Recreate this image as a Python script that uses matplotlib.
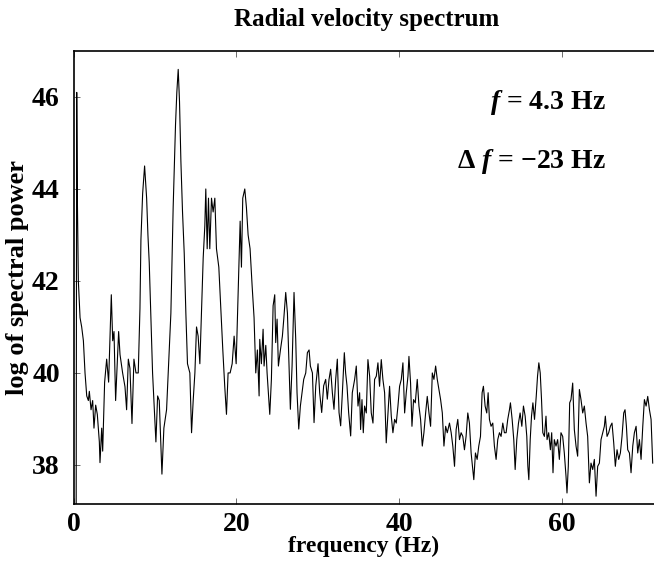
import numpy as np
import matplotlib.pyplot as plt

# values (frequency in Hz, log of spectral power)
freq = [0.0, 0.25, 0.37, 0.45, 0.57, 0.78, 0.98, 1.19, 1.39, 1.60, 1.80, 1.92, 2.13, 2.33,
        2.49, 2.70, 2.90, 3.15, 3.23, 3.44, 3.56, 3.80, 4.05, 4.29, 4.62, 4.79, 4.95,
        5.15, 5.52, 5.69, 6.01, 6.30, 6.50, 6.71, 6.91, 7.16, 7.40, 7.65, 7.93, 8.14,
        8.26, 8.47, 8.71, 8.96, 9.12, 9.28, 9.53, 9.69, 10.10, 10.31, 10.51, 10.84,
        11.08, 11.41,
        11.61, 11.94, 12.22, 12.51, 12.67, 12.84, 13.0, 13.17, 13.37, 13.58, 13.78,
        13.98, 14.27, 14.48, 14.68, 14.89, 15.09, 15.29, 15.50, 15.70, 15.91, 16.11,
        16.23, 16.40, 16.56, 16.72, 16.93, 17.13, 17.34, 17.54, 17.83, 18.07, 18.32,
        18.56, 18.77, 18.97, 19.22, 19.47, 19.71, 19.96, 20.20, 20.45, 20.61, 20.77,
        21.02, 21.22, 21.43, 21.67, 21.92, 22.16, 22.37, 22.57, 22.78,
        22.86, 23.06, 23.27, 23.39, 23.6, 23.76, 23.92, 24.09, 24.29, 24.5, 24.7,
        24.82, 24.99, 25.15, 25.4, 25.64, 25.81, 26.05, 26.26, 26.46, 26.62, 26.83,
        27.07, 27.28, 27.44, 27.65, 27.85, 28.06, 28.26, 28.51, 28.71, 28.92, 29.08,
        29.33, 29.53, 29.74, 30.02, 30.22, 30.47, 30.71, 30.96, 31.16, 31.37, 31.57,
        31.78, 31.98, 32.19, 32.39, 32.6, 32.8, 33.01, 33.25, 33.41, 33.58, 33.78,
        34.03, 34.23,
        34.52, 34.72, 34.93, 35.13, 35.25, 35.42, 35.58, 35.74, 35.95, 36.15, 36.36,
        36.56, 36.77, 36.97, 37.18, 37.38, 37.58, 37.79, 37.99, 38.2, 38.4, 38.61,
        38.81, 39.02, 39.22, 39.43, 39.63, 39.84, 40.04, 40.25, 40.45, 40.66, 40.86,
        41.07, 41.19, 41.39, 41.56, 41.76, 41.97, 42.21, 42.42, 42.62, 42.83, 43.03,
        43.24, 43.44, 43.65, 43.85, 44.06, 44.26, 44.47, 44.67, 44.88, 45.08, 45.29,
        45.49, 45.7, 45.9,
        46.17, 46.38, 46.58, 46.79, 46.99, 47.19, 47.4, 47.6, 47.81, 48.01, 48.21,
        48.42, 48.62, 48.83, 49.03, 49.16, 49.36, 49.57, 49.77, 49.98, 50.18, 50.34,
        50.55, 50.75, 50.92, 51.08, 51.28, 51.49, 51.69, 51.9, 52.1, 52.31, 52.51,
        52.72, 52.92, 53.13, 53.33, 53.54, 53.66, 53.87, 54.07, 54.24, 54.44, 54.65,
        54.85, 55.06, 55.26, 55.47, 55.67, 55.8, 55.92, 56.09, 56.25, 56.42, 56.62,
        56.83, 56.99, 57.15, 57.32, 57.48, 57.64,
        57.83, 58.03, 58.16, 58.36, 58.57, 58.73, 58.89, 59.05, 59.26, 59.46, 59.67,
        59.87, 60.08, 60.28, 60.49, 60.61, 60.77, 60.94, 61.1, 61.31, 61.51, 61.72,
        61.92, 62.13, 62.33, 62.54, 62.74, 62.95, 63.15, 63.36, 63.56, 63.77, 63.97,
        64.18, 64.38, 64.59, 64.79, 65.0, 65.2, 65.32, 65.53, 65.73, 65.94, 66.14,
        66.35, 66.55, 66.76, 66.96, 67.17, 67.37, 67.58, 67.74, 67.91, 68.07, 68.28,
        68.48, 68.69, 68.89, 69.1, 69.3, 69.51, 69.71, 69.92, 70.12, 70.33, 70.53,
        70.74, 70.94, 71.14]

power = [30.0, 30.0, 46.1, 43.8, 42.0, 41.2, 41.0, 40.7, 40.0, 39.5, 39.4, 39.6, 39.2, 39.4,
         38.8, 39.3, 39.1, 38.5, 38.05, 38.8, 38.3, 39.8, 40.3, 39.8, 41.7, 40.7, 40.9,
         39.4, 40.9, 40.4, 40.0, 39.7, 39.2, 40.3, 40.1, 38.9, 40.3, 40.0, 40.0, 41.4,
         42.9, 43.9, 44.5, 43.8, 43.0, 42.4, 40.9, 40.0, 38.5, 39.5, 39.4, 37.8,
         38.8, 39.2,
         40.0, 41.3, 43.6, 45.4, 46.1, 46.6, 45.9, 44.6, 43.5, 42.6, 41.3,
         40.2, 40.0, 38.7, 39.4, 40.0, 41.0, 40.8, 40.2, 41.3, 42.5, 43.2,
         44.0, 42.7, 43.8, 42.7, 43.8, 43.5, 43.8, 42.7, 42.3, 41.4, 40.5,
         39.7, 39.1, 40.0, 40.0, 40.2, 40.8, 40.2, 41.7, 43.3, 42.3, 43.8,
         44.0, 43.6, 43.0, 42.7, 41.9, 41.2, 40.0, 40.5, 39.5,
         40.73, 40.2, 40.95, 40.15, 40.6, 40.0, 39.57, 39.1, 39.86, 41.46, 41.7,
         40.66, 41.17, 40.15, 40.5, 40.8, 41.17, 41.75, 41.3, 40.15, 39.21, 40.15,
         41.75, 40.73, 39.57, 38.78, 39.28, 39.57, 39.86, 40.0, 40.44, 40.5, 40.15,
         40.0, 38.92, 39.72, 40.2, 39.57, 39.14, 39.72, 39.86, 39.43, 39.86, 40.08,
         39.57, 39.21, 39.86, 40.3, 39.14, 38.85, 39.57, 40.44, 40.0, 39.72, 39.14,
         38.63, 39.57,
         39.86, 40.15, 39.28, 39.57, 38.77, 39.42, 38.7, 39.28, 39.13, 40.29, 39.93,
         39.13, 38.91, 39.86, 39.93, 40.22, 39.71, 40.29, 39.86, 39.57, 38.48, 39.13,
         39.71, 39.06, 38.7, 38.99, 38.91, 39.28, 39.71, 39.86, 40.22, 39.13, 39.57,
         39.93, 40.36, 39.78, 38.84, 39.42, 39.35, 39.86, 39.28, 38.99, 38.41, 38.7,
         39.13, 39.49, 39.13, 38.84, 40.0, 39.86, 40.15, 39.86, 39.64, 39.42, 39.13,
         38.41, 38.84, 38.7,
         38.91, 38.7, 38.41, 37.97, 38.77, 38.99, 38.55, 38.7, 38.62, 38.33, 38.62,
         39.13, 38.91, 38.26, 37.9, 37.68, 38.26, 38.12, 38.41, 38.62, 39.57, 39.71,
         39.28, 39.13, 39.57, 38.99, 38.84, 38.91, 38.41, 38.12, 38.55, 38.7, 38.62,
         38.91, 38.7, 38.7, 38.99, 39.2, 39.35, 38.99, 38.55, 37.9, 38.55, 38.91,
         39.13, 38.84, 39.28, 39.06, 38.62, 37.97, 37.68, 38.55, 39.06, 39.35, 38.99,
         39.49, 39.93, 40.22, 40.0, 39.42, 38.7,
         38.62, 39.06, 38.55, 38.7, 38.33, 38.7, 37.83, 38.55, 38.41, 38.55, 38.12,
         38.7, 38.62, 38.26, 37.75, 37.39, 37.97, 39.35, 39.42, 39.78, 38.77, 38.41,
         38.19, 39.64, 39.42, 39.13, 39.28, 38.91, 38.62, 37.61, 38.04, 37.9, 38.12,
         37.32, 37.97, 38.04, 38.55, 38.7, 38.84, 39.06, 38.62, 38.7, 38.84, 38.91,
         38.48, 37.97, 38.33, 38.12, 38.26, 38.62, 39.13, 39.2, 38.84, 38.33, 38.26,
         37.83, 38.41, 38.7, 38.84, 38.26, 38.55, 38.12, 38.84, 39.42, 39.28, 39.49,
         39.2, 38.99, 38.04]

x_ticks = [0, 20, 40, 60]
y_ticks = [38, 40, 42, 44, 46]

plt.rcParams['font.family'] = ['Liberation Serif', 'DejaVu Serif']
plt.rcParams['font.weight'] = 'bold'
plt.rcParams['mathtext.fontset'] = 'custom'
plt.rcParams['mathtext.it'] = 'Liberation Serif:italic:bold'
plt.rcParams['mathtext.rm'] = 'Liberation Serif:bold'

fig = plt.figure(figsize=(6.54, 5.71), dpi=100)
ax = fig.add_axes([0.1127, 0.1173, 0.8873, 0.7934])

ax.plot(freq, power, color='black', linewidth=0.8)

ax.set_xlim(0, 71.3)
ax.set_ylim(37.15, 47.0)
ax.set_xticks(x_ticks)
ax.set_yticks(y_ticks)
ax.tick_params(direction='in', length=4, width=0.6, labelsize=20, color='#555555', top=True)
ax.tick_params(axis='x', pad=6)
ax.tick_params(axis='y', pad=10)
ax.spines['right'].set_visible(False)
for side in ['left', 'bottom', 'top']:
    ax.spines[side].set_linewidth(1.2)

ax.set_xlabel('frequency (Hz)', fontsize=17, fontweight='bold', labelpad=-1)
ax.set_ylabel('log of spectral power', fontsize=19, fontweight='bold', labelpad=2)
fig.text(0.56, 0.965, 'Radial velocity spectrum', ha='center', va='center',
         fontsize=18, fontweight='bold')

fig.text(0.927, 0.820, r'$f$ = 4.3 Hz', ha='right', va='center', fontsize=20, fontweight='bold')
fig.text(0.927, 0.718, '\u0394 $f$ = \u221223 Hz',
         ha='right', va='center', fontsize=20, fontweight='bold')

fig.savefig('out.png', dpi=100)
